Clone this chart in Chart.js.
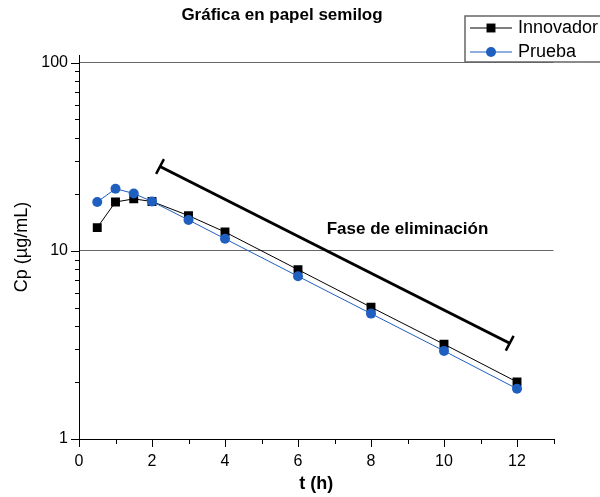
<!DOCTYPE html>
<html lang="es">
<head>
  <meta charset="UTF-8" />
  <title>Gráfica en papel semilog</title>
  <script src="https://cdn.jsdelivr.net/npm/chart.js"></script>
  <style>
    body {
      margin: 0;
      padding: 0;
      background-color: #ffffff;
    }
    #wrap {
      width: 600px;
      height: 497px;
      overflow: hidden;
    }
  </style>
</head>
<body>
  <div id="wrap">
    <canvas id="semilogChart" width="600" height="497"></canvas>
  </div>

  <script>
    // tiempos de muestreo (h) y concentraciones (µg/mL)
    const tiempos = [0.5, 1, 1.5, 2, 3, 4, 6, 8, 10, 12];
    const innovador = [13.3, 18.2, 18.9, 18.3, 15.4, 12.6, 7.95, 5.02, 3.19, 2.01];
    const prueba = [18.2, 21.4, 20.2, 18.3, 14.6, 11.6, 7.33, 4.64, 2.94, 1.85];

    // recta que marca la fase de eliminación
    const faseInicio = { x: 2.22, y: 28.1 };
    const faseFin = { x: 11.8, y: 3.23 };
    const faseTexto = 'Fase de eliminación';
    const faseTextoPos = { x: 9, y: 13.1 };

    // marcas del eje y (papel semilog, 2 décadas)
    const yTicks = [1, 2, 3, 4, 5, 6, 7, 8, 9, 10, 20, 30, 40, 50, 60, 70, 80, 90, 100];
    const yLabels = [1, 10, 100];

    const azul = '#1f5fbf';
    const gris = '#666666';
    const fuente = '"Liberation Sans", Arial, sans-serif';

    Chart.defaults.font.family = fuente;
    Chart.defaults.color = '#000';

    const puntos = (ys) => tiempos.map((t, i) => ({ x: t, y: ys[i] }));

    // titulo, leyenda, texto de la fase y marcas de los ejes
    const extras = {
      id: 'extras',
      afterDraw(chart) {
        const { ctx, chartArea } = chart;
        const xs = chart.scales.x;
        const ys = chart.scales.y;
        ctx.save();

        // marcas eje x
        ctx.strokeStyle = '#000';
        ctx.lineWidth = 1;
        xs.ticks.forEach(t => {
          const px = Math.round(xs.getPixelForValue(t.value)) + 0.5;
          const len = t.value % 2 === 0 ? 8 : 5;
          ctx.beginPath();
          ctx.moveTo(px, chartArea.bottom);
          ctx.lineTo(px, chartArea.bottom + len);
          ctx.stroke();
        });
        // marcas eje y
        ys.ticks.forEach(t => {
          const py = Math.round(ys.getPixelForValue(t.value)) + 0.5;
          const len = yLabels.includes(t.value) ? 8 : 4;
          ctx.beginPath();
          ctx.moveTo(chartArea.left, py);
          ctx.lineTo(chartArea.left - len, py);
          ctx.stroke();
        });

        // titulo
        ctx.fillStyle = '#000';
        ctx.font = 'bold 17px ' + fuente;
        ctx.textAlign = 'center';
        ctx.textBaseline = 'alphabetic';
        ctx.fillText('Gráfica en papel semilog', 282, 20);

        // texto de la fase
        ctx.textBaseline = 'middle';
        ctx.fillText(faseTexto, xs.getPixelForValue(faseTextoPos.x), ys.getPixelForValue(faseTextoPos.y));

        // leyenda (el recuadro sigue fuera del lienzo por la derecha)
        ctx.strokeStyle = gris;
        ctx.lineWidth = 1.5;
        ctx.beginPath();
        ctx.moveTo(620, 16);
        ctx.lineTo(465, 16);
        ctx.lineTo(465, 62);
        ctx.lineTo(620, 62);
        ctx.stroke();

        const entradas = [
          { texto: 'Innovador', color: '#000', estilo: 'rect', radio: 6.3, y: 28 },
          { texto: 'Prueba', color: azul, estilo: 'circle', radio: 5, y: 52 }
        ];
        ctx.font = '18px ' + fuente;
        ctx.textAlign = 'left';
        entradas.forEach(e => {
          ctx.strokeStyle = e.color;
          ctx.lineWidth = 1;
          ctx.beginPath();
          ctx.moveTo(470, e.y);
          ctx.lineTo(512, e.y);
          ctx.stroke();
          ctx.fillStyle = e.color;
          Chart.helpers.drawPoint(ctx, { pointStyle: e.estilo, radius: e.radio, borderWidth: 0 }, 491, e.y);
          ctx.fillStyle = '#000';
          ctx.fillText(e.texto, 518, e.y);
        });

        ctx.restore();
      }
    };

    const ctx = document.getElementById('semilogChart').getContext('2d');
    new Chart(ctx, {
      type: 'scatter',
      data: {
        datasets: [
          {
            label: 'Prueba',
            data: puntos(prueba),
            showLine: true,
            borderColor: azul,
            backgroundColor: azul,
            borderWidth: 1,
            pointStyle: 'circle',
            pointRadius: 5,
            pointBorderWidth: 0,
            order: 0
          },
          {
            label: 'Innovador',
            data: puntos(innovador),
            showLine: true,
            borderColor: '#000',
            backgroundColor: '#000',
            borderWidth: 1,
            pointStyle: 'rect',
            pointRadius: 6.3,
            pointBorderWidth: 0,
            order: 1
          },
          {
            label: 'Fase de eliminación',
            data: [faseInicio, faseFin],
            showLine: true,
            borderColor: '#000',
            backgroundColor: '#000',
            borderWidth: 3,
            pointStyle: 'line',
            pointRadius: 8.3,
            pointBorderWidth: 2.5,
            pointRotation: -62,
            order: 2
          }
        ]
      },
      options: {
        responsive: false,
        animation: false,
        devicePixelRatio: 1,
        layout: {
          padding: { top: 55, right: 46.5, left: 0, bottom: 0 }
        },
        plugins: {
          legend: { display: false },
          title: { display: false },
          tooltip: { enabled: false }
        },
        scales: {
          x: {
            type: 'linear',
            min: 0,
            max: 13,
            ticks: {
              stepSize: 1,
              padding: 13,
              font: { size: 16 },
              maxRotation: 0,
              autoSkip: false,
              callback: v => (v % 2 === 0 && v <= 12 ? String(v) : '')
            },
            grid: { display: false, drawTicks: false },
            border: { display: true, color: '#000', width: 1 },
            title: {
              display: true,
              text: 't (h)',
              font: { size: 18, weight: 'bold' },
              padding: { top: 0, bottom: 2 }
            },
            afterFit: s => { s.height = 58; }
          },
          y: {
            type: 'logarithmic',
            min: 1,
            max: 110,
            afterBuildTicks: s => { s.ticks = yTicks.map(v => ({ value: v })); },
            ticks: {
              padding: 11,
              font: { size: 16 },
              autoSkip: false,
              callback: v => (yLabels.includes(v) ? String(v) : '')
            },
            grid: {
              drawTicks: false,
              lineWidth: 1,
              color: c => (c.tick && (c.tick.value === 10 || c.tick.value === 100) ? gris : 'rgba(0,0,0,0)')
            },
            border: { display: true, color: '#000', width: 1 },
            title: {
              display: true,
              text: 'Cp (µg/mL)',
              font: { size: 18 },
              padding: { top: 11, bottom: 0 }
            },
            afterFit: s => { s.width = 79; }
          }
        }
      },
      plugins: [extras]
    });
  </script>
</body>
</html>
